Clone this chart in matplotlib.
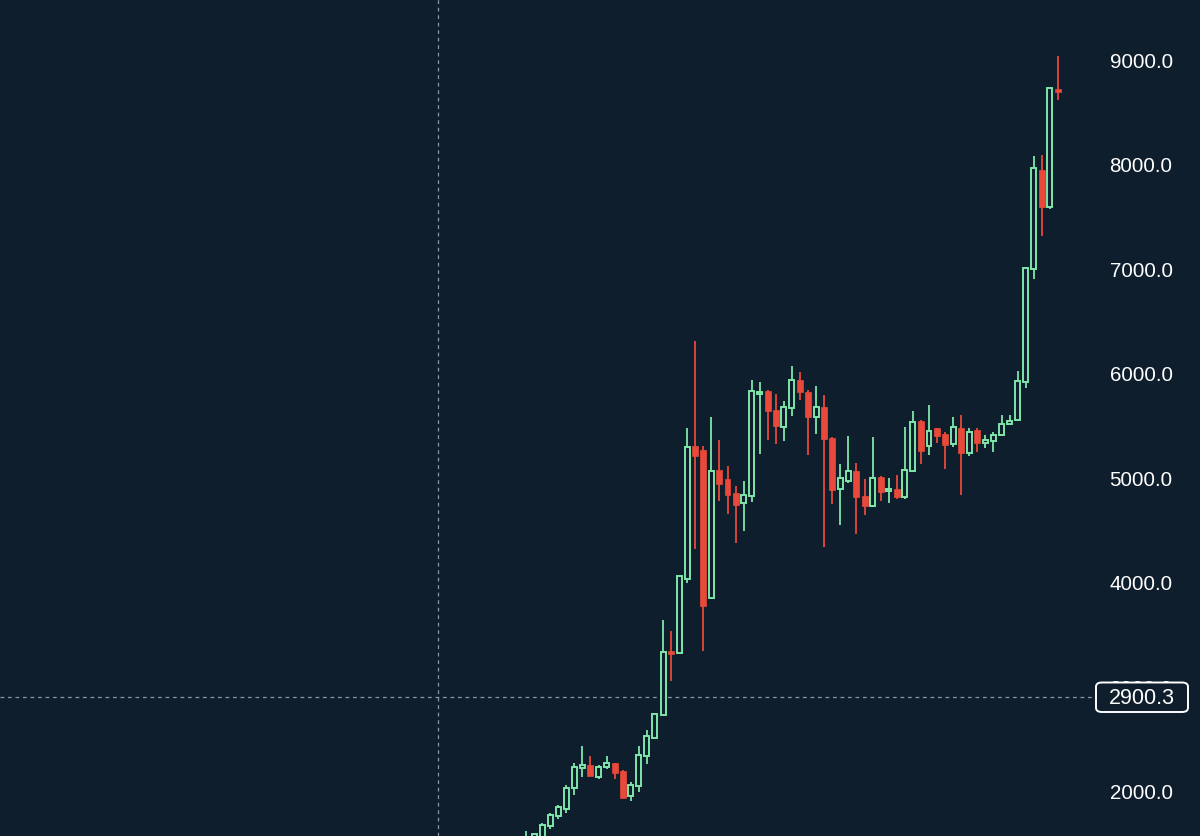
import matplotlib
matplotlib.use("Agg")
import matplotlib.pyplot as plt
import numpy as np
from matplotlib.patches import FancyBboxPatch

# OHLC values, oldest first
opens = [1450, 1500, 1560, 1668, 1758, 1828, 2029, 2223, 2252, 2136, 2232, 2265, 2190,
         1955, 2051, 2338, 2507, 2730, 3336, 3320, 4032, 5295, 5261, 3850, 5068, 4984,
         4845, 4754, 4824, 5794, 5822, 5644, 5478, 5660, 5930, 5818, 5573, 5675, 5376,
         4888, 4965, 5061, 4824, 4728, 5004, 4870, 4888, 4816, 5061, 5540, 5300, 5467,
         5414, 5322, 5475, 5236, 5452, 5328, 5348, 5405, 5514, 5551, 5913, 6992, 7941,
         7588, 8713]
highs = [1620, 1600, 1690, 1790, 1866, 2057, 2265, 2433, 2332, 2249, 2332, 2270, 2205,
         2083, 2433, 2583, 2740, 3638, 3531, 4060, 5467, 6304, 5300, 5578, 5357, 5109,
         4918, 4965, 5930, 5908, 5830, 5801, 5727, 6062, 6004, 5830, 5871, 5787, 5385,
         5127, 5398, 5132, 4984, 5382, 5010, 4993, 5022, 5482, 5630, 5550, 5691, 5475,
         5430, 5572, 5597, 5475, 5467, 5405, 5430, 5596, 5596, 6019, 7013, 8076, 8082,
         8730, 9026]
lows = [1400, 1450, 1540, 1637, 1732, 1790, 1962, 2131, 2140, 2115, 2210, 2115, 1930,
        1907, 1990, 2258, 2497, 2725, 3053, 3310, 3989, 4314, 3340, 3840, 4770, 4649,
        4376, 4489, 4767, 5223, 5357, 5318, 5350, 5583, 5739, 5209, 5414, 4331, 4745,
        4544, 4950, 4458, 4639, 4720, 4774, 4754, 4792, 4792, 5055, 5127, 5213, 5325,
        5084, 5294, 4832, 5204, 5243, 5276, 5243, 5398, 5503, 5545, 5850, 6896, 7310,
        7565, 8611]
closes = [1560, 1590, 1675, 1770, 1844, 2029, 2232, 2249, 2146, 2232, 2265, 2172, 1935,
          2057, 2344, 2529, 2736, 3326, 3310, 4053, 5291, 5205, 3772, 5061, 4934, 4833,
          4736, 4831, 5822, 5813, 5637, 5491, 5669, 5930, 5813, 5573, 5669, 5366, 4879,
          4989, 5061, 4816, 4722, 4996, 4864, 4888, 4808, 5070, 5530, 5252, 5443, 5396,
          5310, 5485, 5232, 5434, 5325, 5357, 5405, 5514, 5540, 5924, 6998, 7958, 7582,
          8720, 8682]
price_ticks = [2000, 3000, 4000, 5000, 6000, 7000, 8000, 9000]
cursor_price = 2900.3
cursor_index = -10.9

BG = "#0f1e2d"
GREEN = "#7ee6aa"
RED = "#e9493a"
CROSS = "#8c96a0"

o = np.array(opens, dtype=float)
h = np.array(highs, dtype=float)
l = np.array(lows, dtype=float)
c = np.array(closes, dtype=float)
x = np.arange(len(o))
up = c >= o

fig = plt.figure(figsize=(12, 8.37), dpi=100, facecolor=BG)
ax = fig.add_axes([0, 0, 1095 / 1200, 1])
ax.set_facecolor(BG)

# wicks
ax.vlines(x[up], l[up], h[up], color=GREEN, linewidth=1.3, zorder=2)
ax.vlines(x[~up], l[~up], h[~up], color=RED, linewidth=1.3, zorder=2)

# bodies: green hollow, red filled
body_lo = np.minimum(o, c)
body_h = np.maximum(np.abs(c - o), 8)
ax.bar(x[up], body_h[up], bottom=body_lo[up], width=0.62, facecolor=BG,
       edgecolor=GREEN, linewidth=1.4, zorder=3)
ax.bar(x[~up], body_h[~up], bottom=body_lo[~up], width=0.74, facecolor=RED,
       edgecolor=RED, linewidth=0.5, zorder=3)

# axis scales matched to the reference pixel grid
px = 8.06
xmin = -526 / px
ax.set_xlim(xmin, xmin + 1095 / px)
unit = 104.57 / 1000
ax.set_ylim(2000 - 45 / unit, 9000 + 60 / unit)

for s in ax.spines.values():
    s.set_visible(False)
ax.set_xticks([])
ax.yaxis.tick_right()
ax.set_yticks(price_ticks)
ax.set_yticklabels([f"{v:.1f}" for v in price_ticks])
ax.tick_params(axis="y", length=0, pad=10.5, labelsize=14.8, labelcolor="white")
for lab in ax.get_yticklabels():
    lab.set_family("Liberation Sans")
    lab.set_clip_on(False)

# crosshair
ax.axhline(cursor_price, color=CROSS, linewidth=0.9, linestyle=(0, (3, 3)), zorder=1)
ax.axvline(cursor_index, color=CROSS, linewidth=0.9, linestyle=(0, (3, 3)), zorder=1)

box = FancyBboxPatch((1096 / 1200, (837 - 713) / 837), 92 / 1200, 29.5 / 837,
                     boxstyle="round,pad=0,rounding_size=0.005",
                     transform=fig.transFigure, facecolor=BG, edgecolor="white",
                     linewidth=1.4, zorder=10)
fig.patches.append(box)
fig.text(1142 / 1200, (837 - 698.5) / 837, f"{cursor_price:.1f}", color="white",
         fontsize=15.5, family="Liberation Sans", ha="center", va="center", zorder=11)

fig.savefig("out.png", dpi=100, facecolor=BG)
